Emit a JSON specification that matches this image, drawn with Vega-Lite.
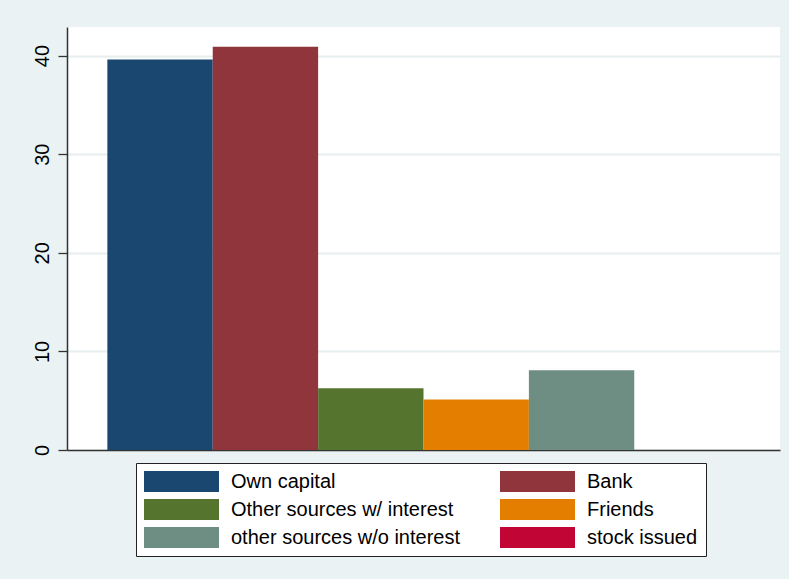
{
  "$schema": "https://vega.github.io/schema/vega-lite/v6.json",
  "width": 713,
  "height": 423,
  "autosize": {"type": "none"},
  "padding": {"left": 67, "top": 27, "right": 9, "bottom": 129},
  "background": "#EAF2F3",
  "config": {"view": {"stroke": null, "fill": "white"}, "font": "Liberation Sans"},
  "data": {
    "values": [
      {"source": "Own capital", "value": 39.6},
      {"source": "Bank", "value": 40.9},
      {"source": "Other sources w/ interest", "value": 6.25},
      {"source": "Friends", "value": 5.13},
      {"source": "other sources w/o interest", "value": 8.08},
      {"source": "stock issued", "value": 0}
    ]
  },
  "mark": {"type": "bar"},
  "encoding": {
    "x": {
      "field": "source", "type": "nominal", "sort": null,
      "scale": {"paddingInner": 0, "paddingOuter": 0.383},
      "axis": {"labels": false, "ticks": false, "title": null, "grid": false, "domainColor": "#333333", "domainWidth": 1.5}
    },
    "y": {
      "field": "value", "type": "quantitative",
      "scale": {"domain": [0, 42.9], "nice": false},
      "axis": {
        "values": [0, 10, 20, 30, 40], "title": null, "labelAngle": -90,
        "labelFontSize": 20, "labelColor": "black", "labelPadding": 6,
        "tickSize": 9, "tickColor": "#333333", "tickWidth": 1.3,
        "domainColor": "#333333", "domainWidth": 1.5,
        "gridColor": "#E6EEF0", "gridWidth": 2
      }
    },
    "color": {
      "field": "source", "type": "nominal", "sort": null,
      "scale": {
        "domain": ["Own capital", "Bank", "Other sources w/ interest", "Friends", "other sources w/o interest", "stock issued"],
        "range": ["#1A476F", "#90353B", "#55752F", "#E37E00", "#6E8E84", "#C10534"]
      },
      "legend": {
        "title": null, "orient": "none", "legendX": 69, "legendY": 436,
        "direction": "horizontal",
        "columns": 2, "symbolType": "M-1,-1H6.143V1H-1Z", "symbolSize": 441,
        "symbolStrokeWidth": 0, "symbolOpacity": 1,
        "labelFontSize": 20, "labelColor": "black", "labelOffset": 66, "labelLimit": 400,
        "columnPadding": 40, "rowPadding": 7, "padding": 8,
        "fillColor": "white", "strokeColor": "#222222"
      }
    }
  }
}
